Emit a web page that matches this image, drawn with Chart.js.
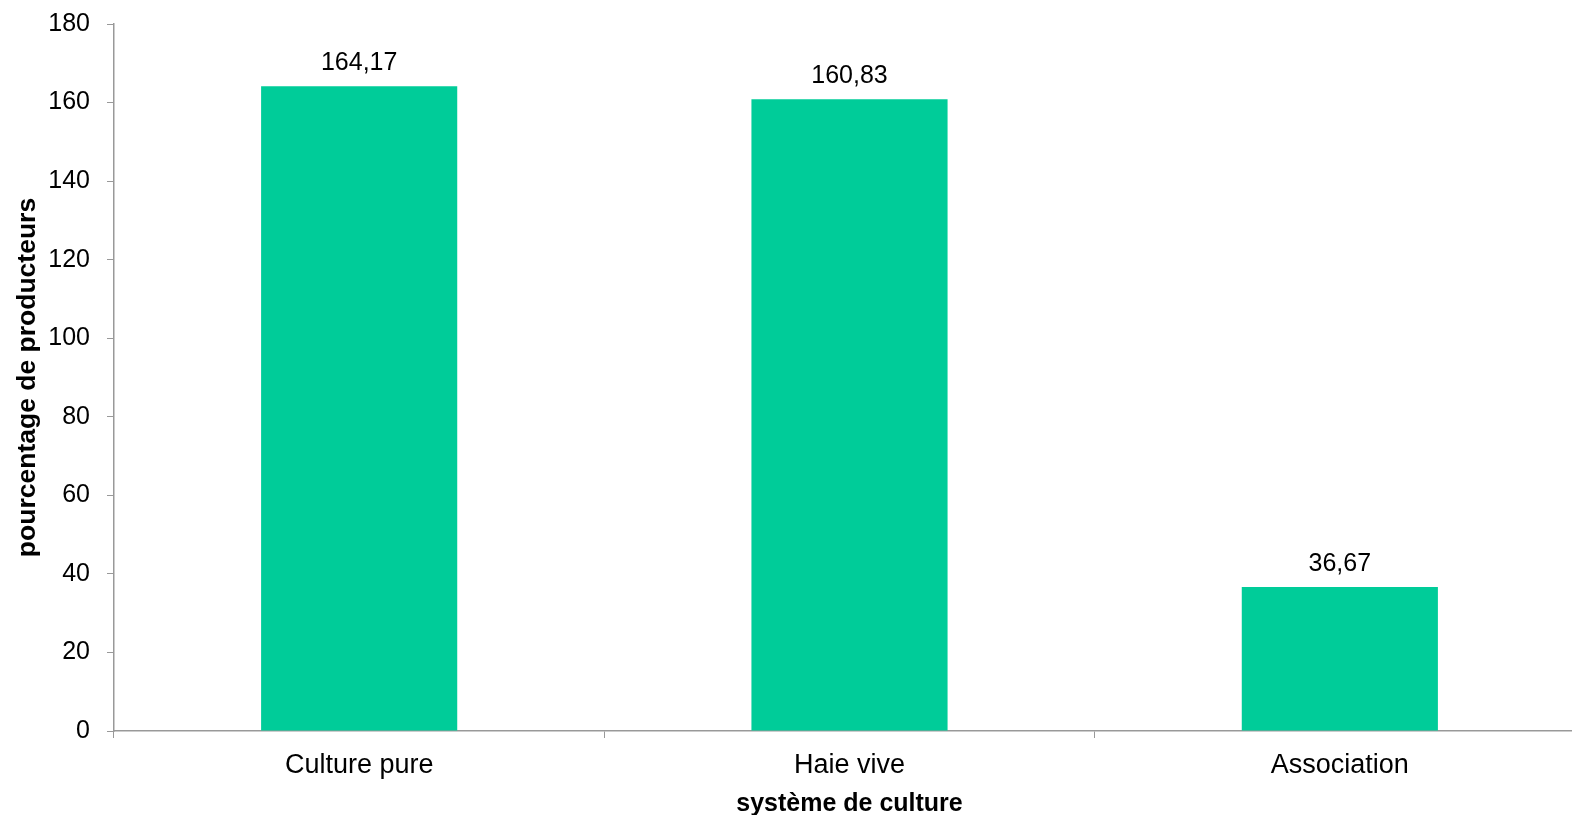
<!DOCTYPE html>
<html>
<head>
<meta charset="utf-8">
<script src="https://cdn.jsdelivr.net/npm/chart.js@4"></script>
<style>
  html, body { margin: 0; padding: 0; background: #fff; overflow: hidden; }
  #wrap { position: relative; width: 1585px; height: 815px; }
</style>
</head>
<body>
<div id="wrap"><canvas id="chart"></canvas></div>
<script>
const categories = ["Culture pure", "Haie vive", "Association"];
const values = [164.17, 160.83, 36.67];
const yTicks = [0, 20, 40, 60, 80, 100, 120, 140, 160, 180];

const fontFamily = "'Liberation Sans', Arial, sans-serif";
const axisGray = "#999999";

// valeurs au-dessus des barres, virgule décimale
const barValueLabels = {
  id: 'barValueLabels',
  afterDatasetsDraw(chart) {
    const ctx = chart.ctx;
    ctx.save();
    ctx.font = "25px " + fontFamily;
    ctx.fillStyle = "#000";
    ctx.textAlign = "center";
    ctx.textBaseline = "alphabetic";
    chart.getDatasetMeta(0).data.forEach((bar, i) => {
      const txt = values[i].toFixed(2).replace('.', ',');
      ctx.fillText(txt, bar.x, bar.y - 16);
    });
    ctx.restore();
  }
};

new Chart(document.getElementById('chart'), {
  type: 'bar',
  data: {
    labels: categories,
    datasets: [{
      data: values,
      backgroundColor: "#00CC99",
      borderWidth: 0,
      categoryPercentage: 1,
      barPercentage: 0.4
    }]
  },
  options: {
    responsive: true,
    maintainAspectRatio: false,
    animation: false,
    layout: { padding: { top: 24, right: 0, bottom: 0, left: 0 } },
    plugins: {
      legend: { display: false },
      tooltip: { enabled: false }
    },
    scales: {
      x: {
        grid: {
          display: true,
          drawOnChartArea: false,
          drawTicks: true,
          tickLength: 7,
          color: axisGray,
          offset: true
        },
        border: { color: axisGray, width: 1.5 },
        ticks: {
          color: "#000",
          padding: 11,
          font: { family: fontFamily, size: 27 }
        },
        title: {
          display: true,
          text: "système de culture",
          color: "#000",
          padding: { top: 0, bottom: 0 },
          font: { family: fontFamily, size: 25, weight: 'bold', lineHeight: 0.9 }
        },
        afterFit(scale) { scale.height = 84; }
      },
      y: {
        min: 0,
        max: 180,
        afterBuildTicks(scale) { scale.ticks = yTicks.map(v => ({ value: v })); },
        grid: {
          display: true,
          drawOnChartArea: false,
          drawTicks: true,
          tickLength: 7,
          color: axisGray
        },
        border: { color: axisGray, width: 1.5 },
        ticks: {
          color: "#000",
          padding: 17,
          font: { family: fontFamily, size: 25 }
        },
        title: {
          display: true,
          text: "pourcentage de producteurs",
          color: "#000",
          padding: { top: 12, bottom: 0 },
          font: { family: fontFamily, size: 26.5, weight: 'bold' }
        },
        afterFit(scale) {
          scale.width = 114;
          scale.paddingTop = 0;
          scale.paddingBottom = 0;
        }
      }
    }
  },
  plugins: [barValueLabels]
});
</script>
</body>
</html>
